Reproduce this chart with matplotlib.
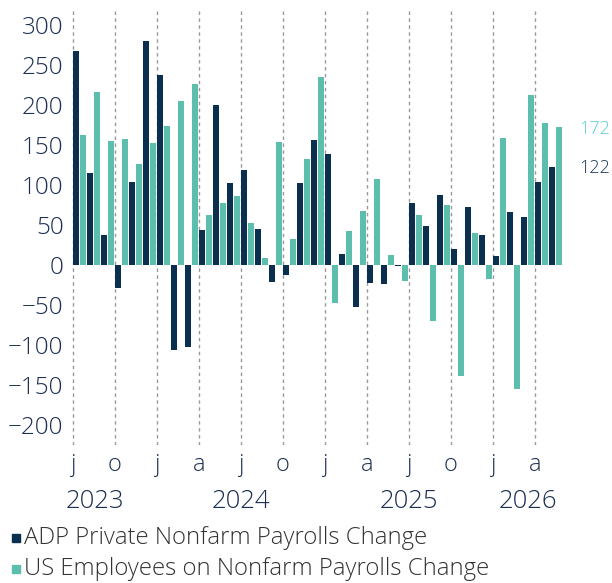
import matplotlib
matplotlib.use("Agg")
import matplotlib.pyplot as plt
import matplotlib.transforms as mtransforms

# Monthly data, Jul 2023 .. May 2026
months = ["Jul23", "Aug23", "Sep23", "Oct23", "Nov23", "Dec23",
          "Jan24", "Feb24", "Mar24", "Apr24", "May24", "Jun24",
          "Jul24", "Aug24", "Sep24", "Oct24", "Nov24", "Dec24",
          "Jan25", "Feb25", "Mar25", "Apr25", "May25", "Jun25",
          "Jul25", "Aug25", "Sep25", "Oct25", "Nov25", "Dec25",
          "Jan26", "Feb26", "Mar26", "Apr26", "May26"]
adp = [267, 115, 37, -29, 104, 280,
       238, -106, -102, 44, 200, 103,
       119, 45, -21, -12, 102, 156,
       139, 14, -53, -23, -24, -1,
       77, 49, 87, 20, 73, 37,
       11, 66, 60, 104, 122]
nfp = [162, 216, 155, 158, 126, 152,
       174, 205, 226, 63, 77, 86,
       52, 9, 154, 33, 133, 235,
       -47, 42, 67, 107, 12, -20,
       63, -70, 75, -139, 40, -17,
       159, -155, 212, 177, 172]
quarter_labels = ["j", "o", "j", "a", "j", "o", "j", "a", "j", "o", "j", "a"]
year_labels = ["2023", "2024", "2025", "2026"]
year_pos = [1.6, 12.0, 24.0, 32.5]
yticks = [300, 250, 200, 150, 100, 50, 0, -50, -100, -150, -200]
legend_labels = ["ADP Private Nonfarm Payrolls Change",
                 "US Employees on Nonfarm Payrolls Change"]

DARK = "#0b2f4e"
TEAL = "#5cbfad"
NAVY = "#1c2f52"
FONT = ["Open Sans", "DejaVu Sans"]
W = 300

plt.rcParams["font.family"] = FONT

fig = plt.figure(figsize=(6.12, 5.83), dpi=100)
ax = fig.add_axes([72 / 612, (583 - 445) / 583, (566 - 72) / 612, 435 / 583])

x = list(range(len(months)))
ax.bar([i + 0.0 for i in x], adp, width=0.46, align="edge", color=DARK,
       edgecolor="none", zorder=2)
ax.bar([i + 0.5 for i in x], nfp, width=0.46, align="edge", color=TEAL,
       edgecolor="none", zorder=2)

ax.set_xlim(-0.07, 35.23)
ax.set_ylim(-225, 318.75)

for q in range(0, len(months), 3):
    ax.axvline(q, color="#999999", linestyle=(0, (2.5, 2.5)), linewidth=1.0,
               zorder=1)

for s in ax.spines.values():
    s.set_visible(False)

ax.set_yticks(yticks)
ax.set_yticklabels([str(v).replace("-", "\u2212") if v < 0 else str(v) for v in yticks],
                   fontsize=17.5, color=NAVY, fontweight=W)
ax.tick_params(axis="y", length=0, pad=6)

ax.set_xticks([q for q in range(0, len(months), 3)])
ax.set_xticklabels(quarter_labels, fontsize=17, color=NAVY, fontweight=W)
ax.tick_params(axis="x", length=0, pad=6)

trans = mtransforms.blended_transform_factory(ax.transData, fig.transFigure)
for lab, pos in zip(year_labels, year_pos):
    ax.text(pos, 1 - 502 / 583, lab, transform=trans, ha="center", va="center",
            fontsize=18.5, color=NAVY, fontweight=W)

# end-value labels
ax.text(579 / 612, 1 - 129 / 583, str(nfp[-1]), transform=fig.transFigure,
        ha="left", va="center", fontsize=13, color="#5fcfd3", fontweight=W)
ax.text(579 / 612, 1 - 168 / 583, str(adp[-1]), transform=fig.transFigure,
        ha="left", va="center", fontsize=13, color="#1b3a5c", fontweight=W)

# legend
for k, (lab, col) in enumerate(zip(legend_labels, [DARK, TEAL])):
    yc = 1 - (538 + 31 * k) / 583
    fig.patches.append(plt.Rectangle((12 / 612, yc - 4 / 583), 8 / 612, 8 / 583,
                                     transform=fig.transFigure, color=col))
    fig.text(24 / 612, yc, lab, ha="left", va="center", fontsize=17.2,
             color="#333333", fontweight=W)

fig.savefig("out.png", dpi=100)
